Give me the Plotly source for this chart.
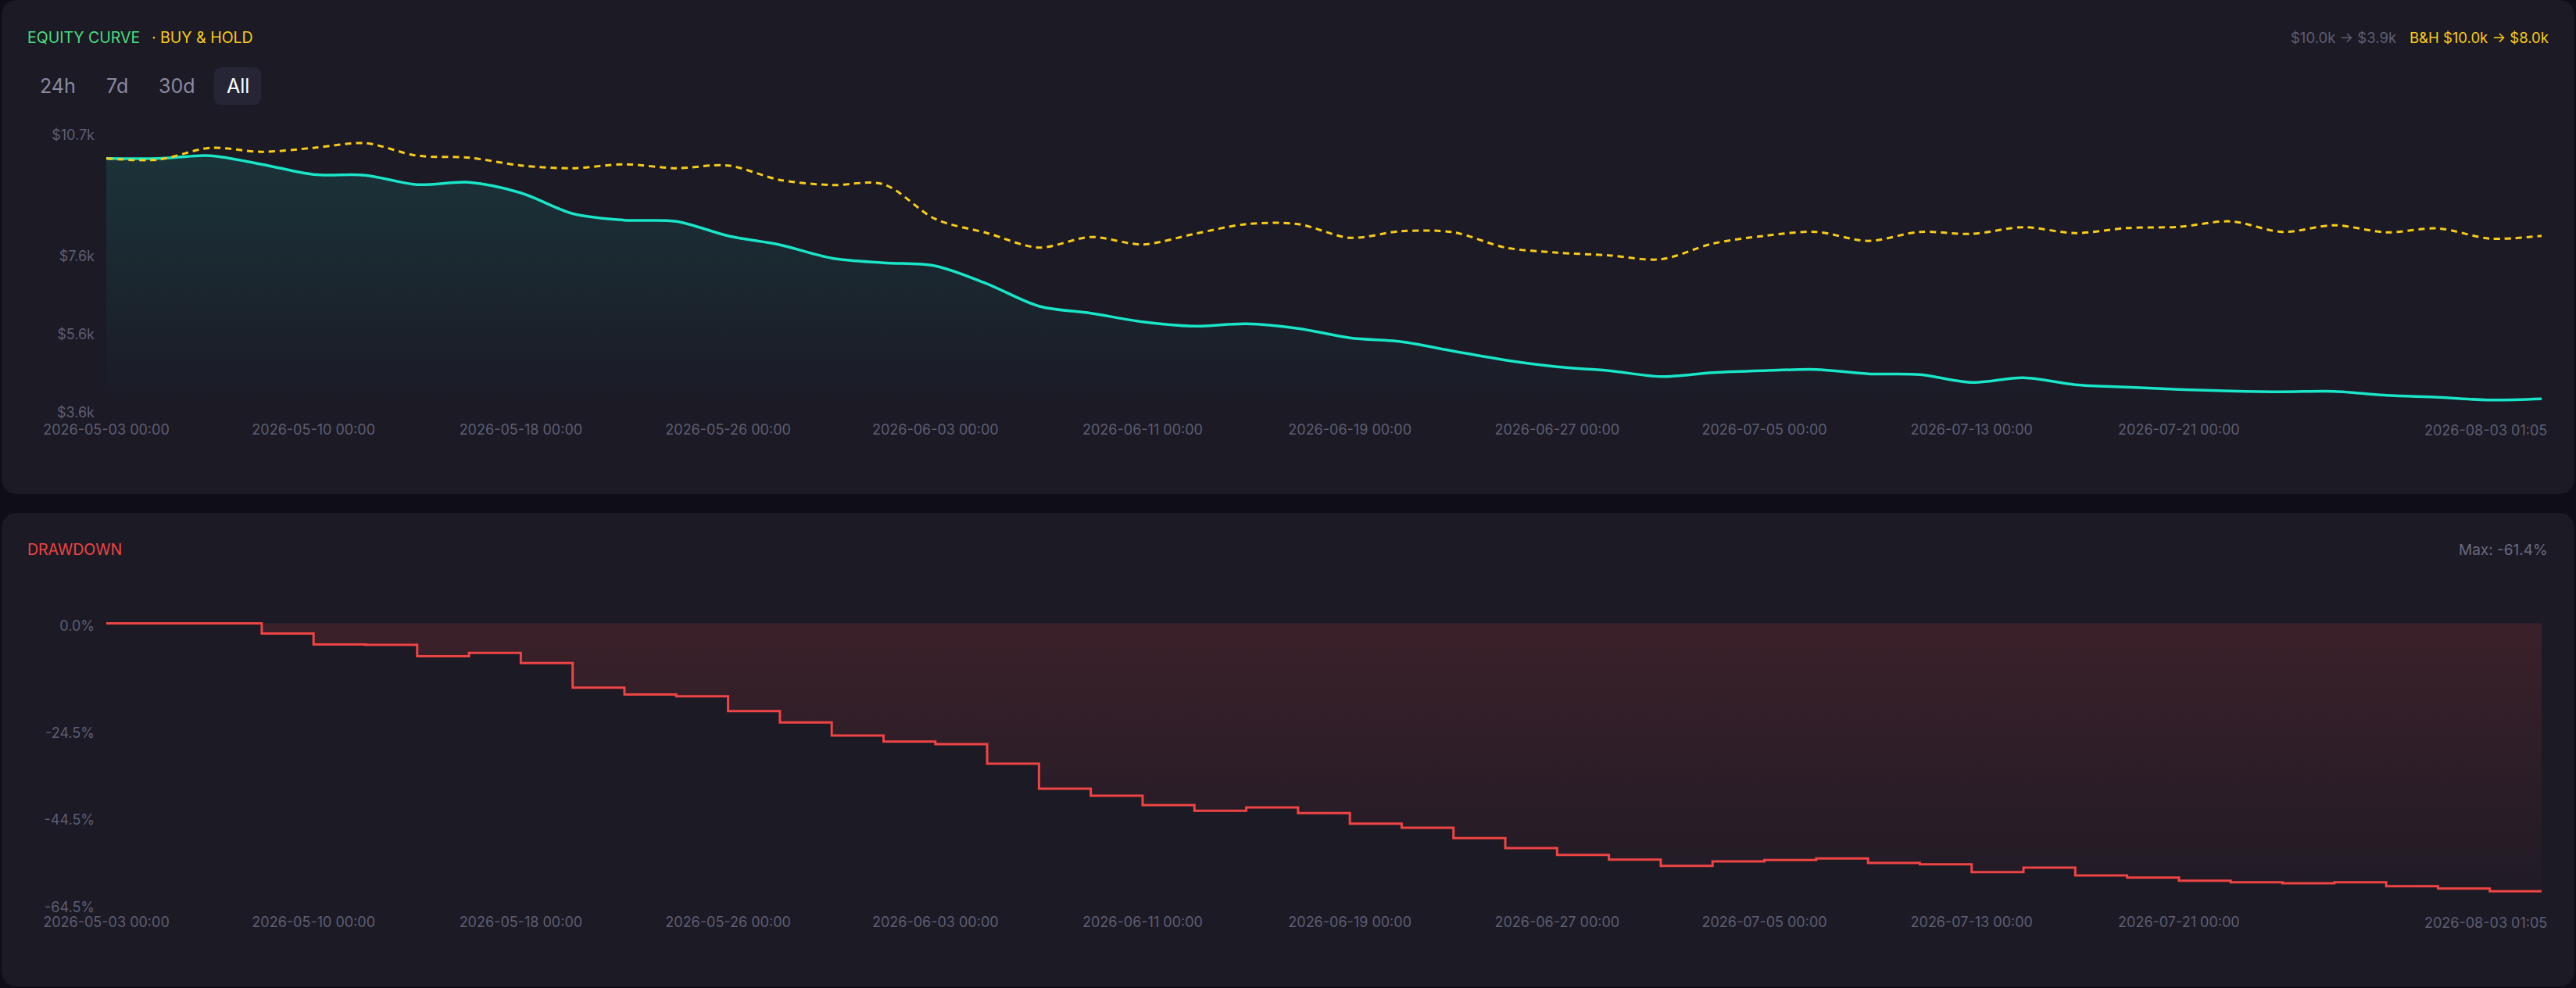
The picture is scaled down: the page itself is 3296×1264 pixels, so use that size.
import plotly.graph_objects as go

W, H = 3296, 1264

# equity curve (strategy) and buy & hold, one value every ~2 days
equity = [10000, 10000, 10070, 9850, 9590, 9570, 9330, 9390, 9120, 8590,
          8420, 8390, 8020, 7790, 7450, 7330, 7250, 6790, 6220, 6040,
          5820, 5710, 5770, 5650, 5410, 5310, 5070, 4840, 4670, 4570,
          4420, 4520, 4570, 4600, 4490, 4470, 4270, 4390, 4210, 4150,
          4090, 4050, 4030, 4040, 3940, 3890, 3820, 3850]
buy_hold = [10000, 9970, 10270, 10170, 10270, 10390, 10070, 10020, 9820, 9750,
            9850, 9750, 9820, 9450, 9320, 9340, 8450, 8090, 7720, 7990,
            7800, 8070, 8320, 8320, 7970, 8140, 8110, 7720, 7590, 7520,
            7420, 7820, 8020, 8120, 7890, 8120, 8070, 8240, 8090, 8220,
            8250, 8390, 8120, 8290, 8110, 8210, 7950, 8020]
drawdown = [0.0, 0.0, 0.0, -2.35, -4.86, -4.93, -7.51, -6.76, -9.10, -14.73,
            -16.33, -16.70, -20.11, -22.71, -25.72, -27.10, -27.69, -32.17, -37.90, -39.52,
            -41.67, -42.97, -42.20, -43.51, -45.91, -46.86, -49.25, -51.52, -53.08, -54.16,
            -55.59, -54.57, -54.27, -53.91, -54.93, -55.23, -57.03, -56.00, -57.80, -58.28,
            -59.00, -59.35, -59.59, -59.35, -60.25, -60.79, -61.43, -61.43]

tick_idx = [0, 4, 8, 12, 16, 20, 24, 28, 32, 36, 40]
tick_labels = ["2026-05-03 00:00", "2026-05-10 00:00", "2026-05-18 00:00", "2026-05-26 00:00",
               "2026-06-03 00:00", "2026-06-11 00:00", "2026-06-19 00:00", "2026-06-27 00:00",
               "2026-07-05 00:00", "2026-07-13 00:00", "2026-07-21 00:00"]
last_label = "2026-08-03 01:05"

eq_ticks = [3600, 5600, 7600, 10700]
dd_ticks = [-64.5, -44.5, -24.5, 0.0]

FONT = "Inter"
BG = "#0f0e17"
CARD = "#1b1a25"
GREY = "#5f5e73"
CYAN = "#19e6c8"
YELLOW = "#facc15"
RED = "#ef4444"

xs = list(range(len(equity)))


def px(x):
    return x / W


def py(y):
    return 1 - y / H


def rounded_rect(x0, y0, x1, y1, r):
    # svg path in paper coords, corners drawn with quadratic curves
    rx, ry = r / W, r / H
    a, b, c, d = px(x0), py(y0), px(x1), py(y1)
    return (f"M{a+rx},{b} L{c-rx},{b} Q{c},{b} {c},{b-ry} L{c},{d+ry} Q{c},{d} {c-rx},{d} "
            f"L{a+rx},{d} Q{a},{d} {a},{d+ry} L{a},{b-ry} Q{a},{b} {a+rx},{b} Z")


fig = go.Figure()

fig.add_trace(go.Scatter(
    x=xs, y=equity, mode="lines", line=dict(color=CYAN, width=3.5, shape="spline", smoothing=0.9),
    fill="tozeroy",
    fillgradient=dict(type="vertical", start=3600, stop=10000,
                      colorscale=[[0, "rgba(25,230,200,0)"], [1, "rgba(25,230,200,0.12)"]]),
    xaxis="x", yaxis="y", hoverinfo="skip"))
fig.add_trace(go.Scatter(
    x=xs, y=buy_hold, mode="lines",
    line=dict(color=YELLOW, width=3, dash="8px,6px", shape="spline", smoothing=0.9),
    xaxis="x", yaxis="y", hoverinfo="skip"))
fig.add_trace(go.Scatter(
    x=xs, y=drawdown, mode="lines", line=dict(color=RED, width=3, shape="hv"),
    fill="tozeroy",
    fillgradient=dict(type="vertical", start=-64.5, stop=0,
                      colorscale=[[0, "rgba(239,68,68,0.02)"], [1, "rgba(239,68,68,0.15)"]]),
    xaxis="x2", yaxis="y2", hoverinfo="skip"))

xdom = [px(136), px(3252)]
tickfont = dict(family=FONT, size=18, color=GREY)
xcommon = dict(domain=xdom, range=[0, len(equity) - 1], tickvals=tick_idx, ticktext=tick_labels,
               showgrid=False, zeroline=False, showline=False, ticks="", tickfont=tickfont,
               automargin=False)
ycommon = dict(showgrid=False, zeroline=False, ticks="", tickfont=tickfont, automargin=False,
               ticklabelstandoff=14)

fig.update_layout(
    width=W, height=H, margin=dict(l=0, r=0, t=0, b=0, autoexpand=False),
    paper_bgcolor=BG, plot_bgcolor=CARD, showlegend=False,
    xaxis=dict(anchor="y", ticklabelstandoff=14, **xcommon),
    yaxis=dict(domain=[py(522.7), py(167.7)], range=[3600, 10700], tickvals=eq_ticks,
               ticktext=[f"${v/1000:.1f}k" for v in eq_ticks], ticklabelshift=5, **ycommon),
    xaxis2=dict(anchor="y2", ticklabelstandoff=10, **xcommon),
    yaxis2=dict(domain=[py(1157.4), py(794.7)], range=[-64.5, 0.5], tickvals=dd_ticks,
                ticktext=[f"{v:.1f}%" for v in dd_ticks], ticklabelshift=3, **ycommon),
)

shapes = [
    dict(type="path", path=rounded_rect(2, 0, 3294, 632, 22), xref="paper", yref="paper",
         fillcolor=CARD, line=dict(width=0), layer="below"),
    dict(type="path", path=rounded_rect(2, 656, 3294, 1262, 22), xref="paper", yref="paper",
         fillcolor=CARD, line=dict(width=0), layer="below"),
    dict(type="path", path=rounded_rect(274, 86, 334, 134, 10), xref="paper", yref="paper",
         fillcolor="#262535", line=dict(width=0), layer="above"),
]
fig.update_layout(shapes=shapes)


def note(text, x, y, color, size=18, anchor="left", **kw):
    fig.add_annotation(text=text, x=px(x), y=py(y), xref="paper", yref="paper",
                       xanchor=anchor, yanchor="middle", showarrow=False,
                       font=dict(family=FONT, size=size, color=color), **kw)


note("EQUITY CURVE", 33, 48, "#4ade80", size=19.5)
note("· BUY &amp; HOLD", 192, 48, YELLOW, size=19.5)
note("$10.0k → $3.9k", 3068, 48, GREY, size=18.5, anchor="right")
note("B&amp;H $10.0k → $8.0k", 3263, 48, YELLOW, size=18.5, anchor="right")

for label, cx in zip(["24h", "7d", "30d"], [73.5, 149.5, 226]):
    note(label, cx, 110, "#8a8aa0", size=25, anchor="center")
note("All", 304, 110, "#ffffff", size=25, anchor="center")

note("DRAWDOWN", 33, 703, RED, size=19.5)
note("Max: -61.4%", 3262, 703, "#6b6a80", size=19, anchor="right")

# last time label sits right-aligned on the final point
for yaxis_px in (550, 1180.5):
    fig.add_annotation(text=last_label, x=len(equity) - 1, xref="x", y=py(yaxis_px), yref="paper",
                       xanchor="right", yanchor="middle", xshift=9, showarrow=False,
                       font=tickfont)

fig.write_html("out.html", config={"displayModeBar": False},
               post_script="document.body.style.margin='0';document.body.style.background='#0f0e17';")
